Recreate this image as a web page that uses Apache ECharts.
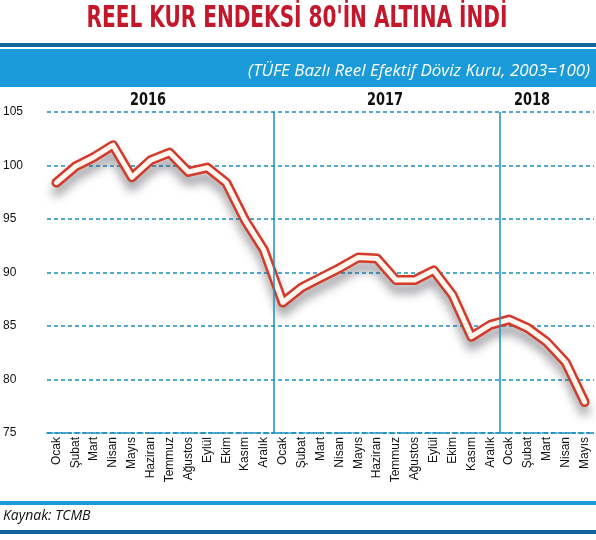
<!DOCTYPE html>
<html><head><meta charset="utf-8">
<script src="https://cdn.jsdelivr.net/npm/echarts@6/dist/echarts.min.js"></script>
<style>html,body{margin:0;padding:0;background:#fff}#c{width:596px;height:540px}</style>
</head><body><div id="c"></div>
<script>
const months = ['Ocak','Şubat','Mart','Nisan','Mayıs','Haziran','Temmuz','Ağustos','Eylül','Ekim','Kasım','Aralık'];
const categories = [...months, ...months, 'Ocak','Şubat','Mart','Nisan','Mayıs'];
const values = [98.4,99.9,100.8,101.9,98.9,100.5,101.2,99.4,99.8,98.4,94.9,92.1,
                87.2,88.6,89.5,90.4,91.4,91.3,89.3,89.3,90.2,87.9,84.0,85.1,
                85.6,84.8,83.5,81.6,77.9];
const yearBreaks = [12, 24];
const years = ['2016','2017','2018'];
const NF = "'DejaVu Sans Condensed',sans-serif";
const chart = echarts.init(document.getElementById('c'));
chart.setOption({
  animation:false,
  grid:{left:46,right:2,top:112,bottom:107},
  graphic:[
    {type:'text',x:297,y:3,scaleX:0.72,originX:0,style:{text:"REEL KUR ENDEKSİ 80'İN ALTINA İNDİ",font:"bold 31px "+NF,fill:'#c3172c',align:'center'}},
    {type:'rect',shape:{x:0,y:43,width:596,height:4},style:{fill:'#15649c'}},
    {type:'rect',shape:{x:0,y:49,width:596,height:38},style:{fill:'#1a9ad8'}},
    {type:'text',right:6,top:63,style:{text:'(TÜFE Bazlı Reel Efektif Döviz Kuru, 2003=100)',font:"italic 17px 'Open Sans',sans-serif",fill:'#fff'}},
    {type:'text',x:148,y:91,scaleX:0.8,originX:0,style:{text:years[0],font:"bold 18px "+NF,fill:'#111',align:'center'}},
    {type:'text',x:385,y:91,scaleX:0.8,originX:0,style:{text:years[1],font:"bold 18px "+NF,fill:'#111',align:'center'}},
    {type:'text',x:532,y:91,scaleX:0.8,originX:0,style:{text:years[2],font:"bold 18px "+NF,fill:'#111',align:'center'}},
    {type:'rect',shape:{x:0,y:501,width:596,height:4},style:{fill:'#1a9ad8'}},
    {type:'text',left:3,top:509,style:{text:'Kaynak: TCMB',font:"italic 14px 'Open Sans',sans-serif",fill:'#111'}},
    {type:'rect',shape:{x:0,y:530,width:596,height:4},style:{fill:'#15649c'}}
  ],
  xAxis:[{type:'category',data:categories,boundaryGap:true,
    axisLine:{lineStyle:{color:'#1a8fc0',type:'dashed',width:1.5}},
    axisTick:{inside:true,length:6,lineStyle:{color:'#1a8fc0',width:1.5}},
    axisLabel:{rotate:90,interval:0,color:'#111',font:"bold 13px "+NF,margin:4}},
    {type:'value',min:0,max:29,show:false}],
  yAxis:{type:'value',min:75,max:105,interval:5,
    axisLine:{show:false},axisTick:{show:false},
    axisLabel:{color:'#111',font:"bold 17px "+NF,align:'left',margin:44},
    splitLine:{lineStyle:{color:'#1a8fc0',type:[4,3],width:1.5}}},
  series:[
    {type:'line',data:values,symbol:'none',lineStyle:{color:'#d23a2a',width:10,cap:'round',join:'round',shadowColor:'rgba(60,60,70,0.45)',shadowBlur:10,shadowOffsetY:9}},
    {type:'line',data:values,symbol:'none',lineStyle:{color:'#fff6f0',width:5,cap:'round',join:'round'}},
    {type:'line',xAxisIndex:1,data:[],markLine:{symbol:'none',silent:true,label:{show:false},
      lineStyle:{color:'#1a8fc0',type:'solid',width:1.5},data:yearBreaks.map(v=>({xAxis:v}))}}
  ]
});
</script></body></html>
